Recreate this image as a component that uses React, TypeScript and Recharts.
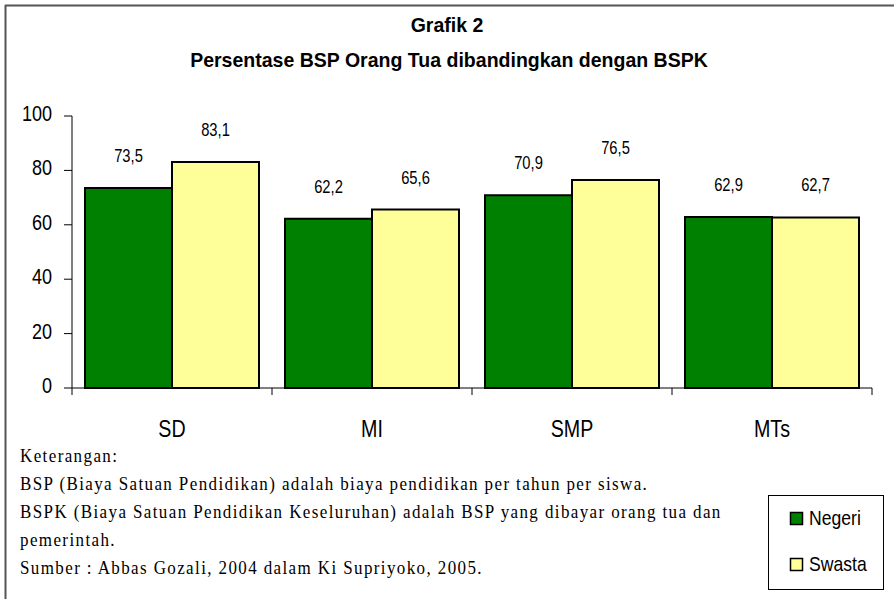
import { BarChart, Bar, XAxis, YAxis, LabelList } from 'recharts';

const categories = ['SD', 'MI', 'SMP', 'MTs'];
const negeri = [73.5, 62.2, 70.9, 62.9];
const swasta = [83.1, 65.6, 76.5, 62.7];
const yTicks = [0, 20, 40, 60, 80, 100];

const notes = [
  'Keterangan:',
  'BSP (Biaya Satuan Pendidikan) adalah biaya pendidikan per tahun per siswa.',
  'BSPK (Biaya Satuan Pendidikan Keseluruhan) adalah BSP yang dibayar orang tua dan',
  'pemerintah.',
  'Sumber : Abbas Gozali, 2004 dalam Ki Supriyoko, 2005.',
];

const SANS = '"Liberation Sans", Arial, sans-serif';
const SERIF = '"Liberation Serif", "Times New Roman", serif';
const NARROW = 0.82;

const data = categories.map((c, i) => ({ name: c, Negeri: negeri[i], Swasta: swasta[i] }));

const fmt = (v: any) => String(v).replace('.', ',');

// narrow text: squeeze horizontally around the anchor point
const NText = ({ x, y, size, anchor = 'middle', sx = NARROW, bold = false, family = SANS, spacing = 0, children }: any) => (
  <g transform={`translate(${x},${y}) scale(${sx},1)`}>
    <text x={0} y={0} textAnchor={anchor} fontSize={size} fontFamily={family} fontWeight={bold ? 'bold' : 'normal'} letterSpacing={spacing} fill="#000">
      {children}
    </text>
  </g>
);

const CategoryTick = (props: any) => {
  const { x, y, payload, index } = props;
  const half = 100;
  return (
    <g>
      <line x1={x - half} y1={y - 8} x2={x - half} y2={y - 1} stroke="#000" />
      {index === categories.length - 1 && (
        <line x1={x + half} y1={y - 8} x2={x + half} y2={y - 1} stroke="#000" />
      )}
      <NText x={x} y={y + 41} size={24}>{payload.value}</NText>
    </g>
  );
};

const ValueTick = (props: any) => {
  const { x, y, payload } = props;
  return <NText x={x - 10} y={y + 5} size={22} anchor="end">{payload.value}</NText>;
};

const ValueLabel = (props: any) => {
  const { x, y, width, value } = props;
  return <NText x={x + width / 2} y={y - 26} size={18}>{fmt(value)}</NText>;
};

const legendItems = [
  { label: 'Negeri', color: '#008000' },
  { label: 'Swasta', color: '#FFFF99' },
];

export default function App() {
  return (
    <div style={{ position: 'absolute', left: 0, top: 0, width: 894, height: 599, background: '#fff', overflow: 'hidden' }}>
      <BarChart
        width={894}
        height={599}
        data={data}
        margin={{ top: 116, right: 22, left: 0, bottom: 171 }}
        barCategoryGap={13}
        barGap={0}
        style={{ position: 'absolute', left: 0, top: 0 }}
      >
        <XAxis
          dataKey="name"
          height={40}
          axisLine={{ stroke: '#000' }}
          tickLine={false}
          tick={<CategoryTick />}
          interval={0}
        />
        <YAxis
          width={72}
          domain={[0, 100]}
          ticks={yTicks}
          interval={0}
          axisLine={{ stroke: '#000' }}
          tickLine={{ stroke: '#000' }}
          tickSize={8}
          tick={<ValueTick />}
        />
        <Bar dataKey="Negeri" fill="#008000" stroke="#000" strokeWidth={2} isAnimationActive={false}>
          <LabelList dataKey="Negeri" content={<ValueLabel />} />
        </Bar>
        <Bar dataKey="Swasta" fill="#FFFF99" stroke="#000" strokeWidth={2} isAnimationActive={false}>
          <LabelList dataKey="Swasta" content={<ValueLabel />} />
        </Bar>
      </BarChart>
      <svg width={894} height={599} style={{ position: 'absolute', left: 0, top: 0, pointerEvents: 'none' }}>
        <line x1={5} y1={5.5} x2={894} y2={5.5} stroke="#555" strokeWidth={2} />
        <line x1={5.5} y1={5} x2={5.5} y2={599} stroke="#555" strokeWidth={2} />
        <NText x={447} y={32} size={21} sx={0.93} bold>Grafik 2</NText>
        <NText x={449} y={67} size={21} sx={0.93} bold>Persentase BSP Orang Tua dibandingkan dengan BSPK</NText>
        {notes.map((n, i) => (
          <NText key={i} x={20} y={462 + i * 28} size={18.5} sx={0.92} spacing={1.5} anchor="start" family={SERIF}>{n}</NText>
        ))}
        <rect x={768.5} y={495.5} width={115} height={94} fill="#fff" stroke="#000" />
        {legendItems.map((it, i) => (
          <g key={it.label}>
            <rect x={790.5} y={512.5 + i * 46} width={12} height={12} fill={it.color} stroke="#000" strokeWidth={1.5} />
            <NText x={809} y={525 + i * 46} size={20} sx={0.88} anchor="start">{it.label}</NText>
          </g>
        ))}
      </svg>
    </div>
  );
}
